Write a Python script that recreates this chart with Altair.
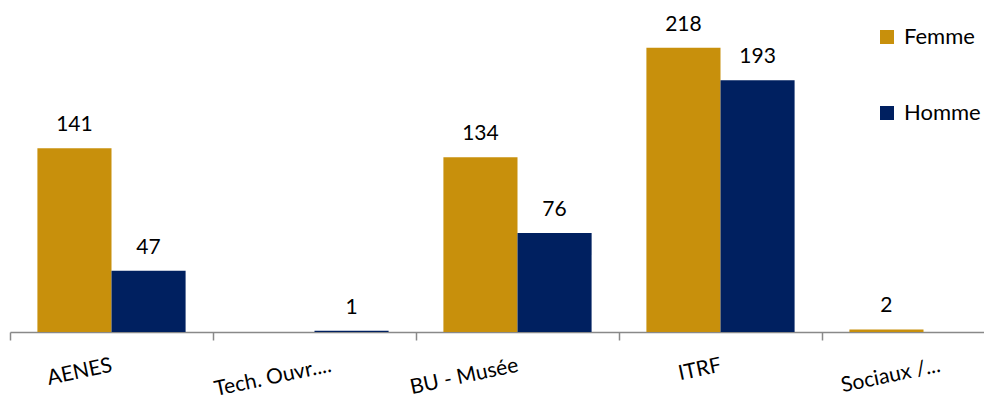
import altair as alt
import pandas as pd

# Effectifs par filière et par sexe
categories = ["AENES", "Tech. Ouvr....", "BU - Musée", "ITRF", "Sociaux /..."]
femme = [141, 0, 134, 218, 2]
homme = [47, 1, 76, 193, 0]
series = ["Femme", "Homme"]
colors = ["#C8900C", "#002060"]

rows = []
for cat, f, h in zip(categories, femme, homme):
    rows.append({"cat": cat, "sexe": "Femme", "n": f})
    rows.append({"cat": cat, "sexe": "Homme", "n": h})
df = pd.DataFrame(rows)

FONT = "Lato"
STEP = 203

x = alt.X(
    "cat:N",
    sort=categories,
    title=None,
    scale=alt.Scale(range=[0, STEP * 5], paddingInner=0.27, paddingOuter=0.135),
    axis=alt.Axis(
        domainColor="#898989",
        domainWidth=1.5,
        tickColor="#898989",
        tickWidth=1.5,
        tickSize=8,
        tickOffset=-STEP / 2,
        # truncated labels sit a little further right
        labelOffset={
            "condition": {"test": "indexof(datum.label, '...') >= 0", "value": STEP / 2 + 16},
            "value": STEP / 2,
        },
        labelAngle=348,
        labelAlign="right",
        labelBaseline="middle",
        labelPadding=25,
        labelFont=FONT,
        labelFontSize=21,
        labelColor="#000000",
        grid=False,
    ),
)
xo = alt.XOffset("sexe:N", sort=series, scale=alt.Scale(paddingInner=0, paddingOuter=0))
y = alt.Y("n:Q", scale=alt.Scale(domain=[0, 250], nice=False), axis=None)

bars = alt.Chart(df).mark_bar().encode(
    x=x,
    xOffset=xo,
    y=y,
    color=alt.Color(
        "sexe:N",
        sort=series,
        scale=alt.Scale(domain=series, range=colors),
        legend=alt.Legend(
            title=None,
            orient="none",
            legendX=866,
            legendY=20,
            symbolType="square",
            symbolSize=196,
            symbolStrokeWidth=0,
            labelFont=FONT,
            labelFontSize=22,
            labelColor="#000000",
            labelOffset=6,
            rowPadding=54,
            padding=0,
        ),
    ),
)

labels = alt.Chart(df).transform_filter("datum.n > 0").mark_text(
    font=FONT, fontSize=21, baseline="alphabetic", dy=-17, color="#000000"
).encode(x=x, xOffset=xo, y=y, text="n:Q")

chart = (
    alt.layer(bars, labels)
    .properties(
        width=974,
        height=326,
        padding={"left": 10, "top": 6, "right": 0, "bottom": 67},
        autosize=alt.AutoSizeParams(type="none"),
        background="white",
    )
    .configure_view(stroke=None)
)

chart.save("out.html", embed_options={"renderer": "svg", "actions": False})
